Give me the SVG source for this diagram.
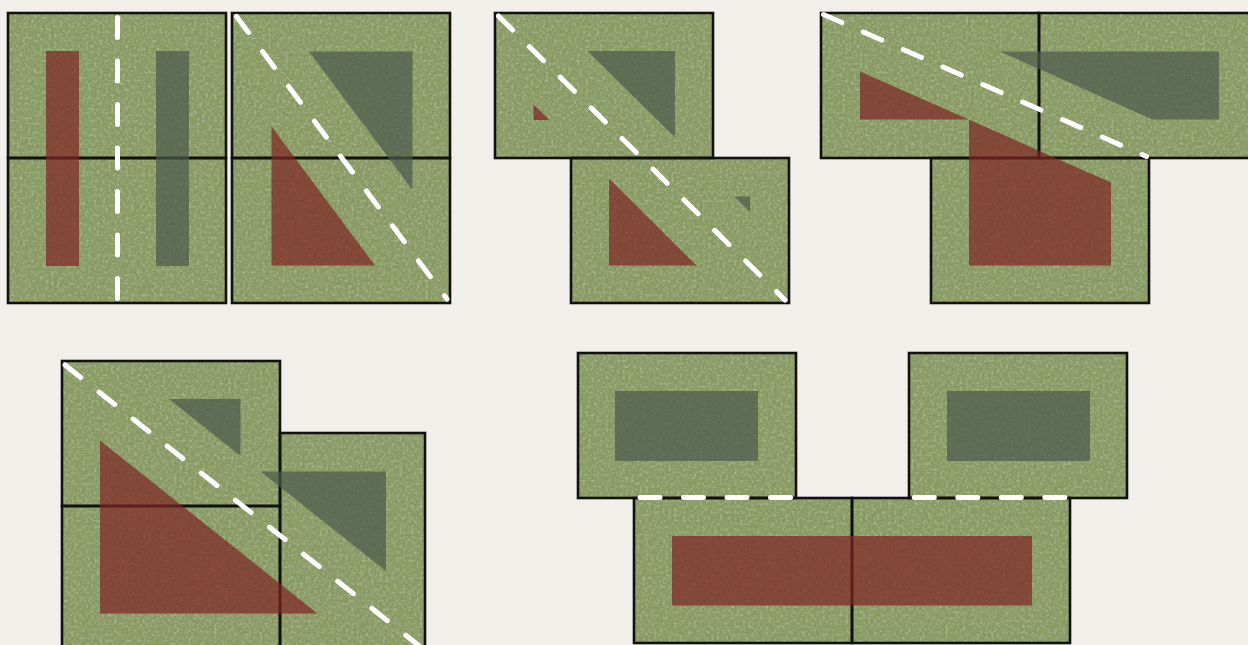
<svg xmlns="http://www.w3.org/2000/svg" width="1248" height="645" viewBox="0 0 1248 645">
  <defs>
    <filter id="grain" filterUnits="userSpaceOnUse" x="0" y="0" width="1248" height="645">
      <feTurbulence type="fractalNoise" baseFrequency="0.35" numOctaves="3" seed="7" result="n"/>
      <feColorMatrix in="n" type="matrix" values="0 0 0 0 0.34  0 0 0 0 0.40  0 0 0 0 0.24  1.0 0 0 0 -0.38" result="spk"/>
      <feComposite in="spk" in2="SourceGraphic" operator="in" result="spk2"/>
      <feColorMatrix in="n" type="matrix" values="0 0 0 0 0.66  0 0 0 0 0.72  0 0 0 0 0.52  0 0.9 0 0 -0.42" result="lit"/>
      <feComposite in="lit" in2="SourceGraphic" operator="in" result="lit2"/>
      <feMerge><feMergeNode in="SourceGraphic"/><feMergeNode in="spk2"/><feMergeNode in="lit2"/></feMerge>
    </filter>
  </defs>
  <style>
    .fill { fill: #86995f; }
    .edge { fill: none; stroke: #111; stroke-width: 2.6; }
    .red { fill: rgb(125,36,36); fill-opacity: 0.7; }
    .grey { fill: rgb(76,88,76); fill-opacity: 0.7; }
    .dash { fill: none; stroke: #fff; stroke-width: 5; stroke-linecap: round; stroke-dasharray: 20 23.5; }
  </style>
  <rect width="1248" height="645" fill="#f2efeb"/>

  <g id="tiles-fill" filter="url(#grain)">
    <rect class="fill" x="8" y="13" width="218" height="145"/>
    <rect class="fill" x="8" y="158" width="218" height="145"/>
    <rect class="fill" x="232" y="13" width="218" height="145"/>
    <rect class="fill" x="232" y="158" width="218" height="145"/>
    <rect class="fill" x="495" y="13" width="218" height="145"/>
    <rect class="fill" x="571" y="158" width="218" height="145"/>
    <rect class="fill" x="821" y="13" width="218" height="145"/>
    <rect class="fill" x="1039" y="13" width="218" height="145"/>
    <rect class="fill" x="931" y="158" width="218" height="145"/>
    <rect class="fill" x="62" y="361" width="218" height="145"/>
    <rect class="fill" x="62" y="506" width="218" height="145"/>
    <rect class="fill" x="280" y="433" width="145" height="218"/>
    <rect class="fill" x="578" y="353" width="218" height="145"/>
    <rect class="fill" x="909" y="353" width="218" height="145"/>
    <rect class="fill" x="634" y="498" width="218" height="145"/>
    <rect class="fill" x="852" y="498" width="218" height="145"/>
  </g>

  <g id="tiles-edge">
    <rect class="edge" x="8" y="13" width="218" height="145"/>
    <rect class="edge" x="8" y="158" width="218" height="145"/>
    <rect class="edge" x="232" y="13" width="218" height="145"/>
    <rect class="edge" x="232" y="158" width="218" height="145"/>
    <rect class="edge" x="495" y="13" width="218" height="145"/>
    <rect class="edge" x="571" y="158" width="218" height="145"/>
    <rect class="edge" x="821" y="13" width="218" height="145"/>
    <rect class="edge" x="1039" y="13" width="218" height="145"/>
    <rect class="edge" x="931" y="158" width="218" height="145"/>
    <rect class="edge" x="62" y="361" width="218" height="145"/>
    <rect class="edge" x="62" y="506" width="218" height="145"/>
    <rect class="edge" x="280" y="433" width="145" height="218"/>
    <rect class="edge" x="578" y="353" width="218" height="145"/>
    <rect class="edge" x="909" y="353" width="218" height="145"/>
    <rect class="edge" x="634" y="498" width="218" height="145"/>
    <rect class="edge" x="852" y="498" width="218" height="145"/>
  </g>

  <g id="shapes">
    <!-- scene 1 -->
    <rect class="red" x="46" y="51" width="33" height="215"/>
    <rect class="grey" x="156" y="51" width="33" height="215"/>
    <polygon class="grey" points="309,51.5 412.5,51.5 412.5,190"/>
    <polygon class="red" points="271.5,126.5 271.5,265.5 375,265.5"/>
    <!-- scene 2 -->
    <polygon class="grey" points="587.5,51 675,51 675,137.5"/>
    <polygon class="red" points="533.5,104.5 533.5,120 549.5,120"/>
    <polygon class="red" points="609,178.5 609,265.5 696.5,265.5"/>
    <polygon class="grey" points="734.5,196.5 750,196.5 750,212"/>
    <!-- scene 3 -->
    <polygon class="grey" points="1000,51.5 1219,51.5 1219,119.5 1152.5,119.5"/>
    <polygon class="red" points="860,71.5 860,119.5 969,119.5 969,265.5 1111,265.5 1111,182.5"/>
    <!-- scene 4 -->
    <polygon class="grey" points="169,399 240.5,399 240.5,456"/>
    <polygon class="grey" points="260.5,471.5 386,471.5 386,571"/>
    <polygon class="red" points="100,440.5 100,613.5 317.5,613.5"/>
    <!-- scene 5 -->
    <rect class="grey" x="615" y="391" width="143" height="70"/>
    <rect class="grey" x="947" y="391" width="143" height="70"/>
    <rect class="red" x="672" y="536" width="360" height="69.5"/>
  </g>

  <g id="connectors">
    <line class="dash" x1="117.5" y1="17.5" x2="117.5" y2="300"/>
    <line class="dash" x1="236.5" y1="16.5" x2="447" y2="299"/>
    <line class="dash" x1="498.5" y1="16" x2="785" y2="300"/>
    <line class="dash" x1="823.5" y1="14.5" x2="1146.5" y2="156.5"/>
    <line class="dash" x1="65" y1="365" x2="425" y2="650.5"/>
    <line class="dash" x1="640" y1="497.5" x2="795" y2="497.5"/>
    <line class="dash" x1="914.3" y1="497.5" x2="1069" y2="497.5"/>
  </g>
</svg>
